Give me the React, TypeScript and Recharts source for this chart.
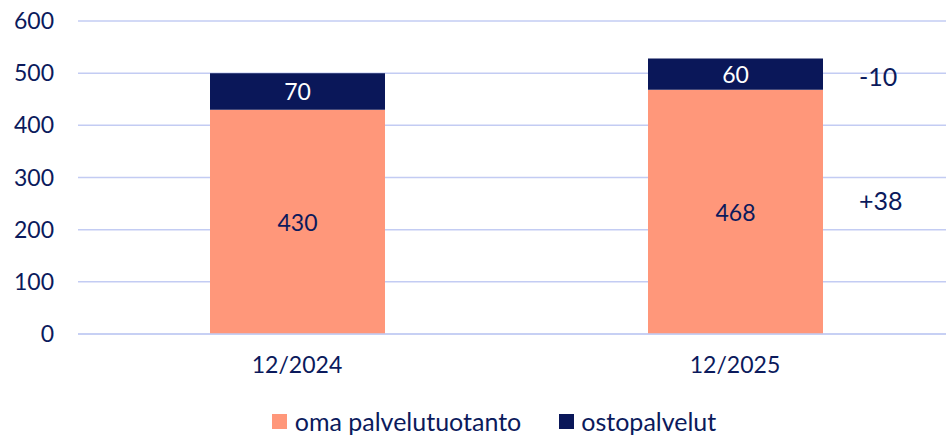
import React from "react";
import { BarChart, Bar, XAxis, YAxis, CartesianGrid, Legend, LabelList } from "recharts";

const categories = ["12/2024", "12/2025"];
const omaValues = [430, 468];
const ostoValues = [70, 60];
const omaChange = ["", "+38"];
const ostoChange = ["", "-10"];
const yTicks = [0, 100, 200, 300, 400, 500, 600];

const NAVY = "#0A1759";
const SALMON = "#FF977A";
const TEXT = "#0B1A5C";
const GRID = "#C3CCF3";
const FONT = "Lato, 'Open Sans', sans-serif";

const data = categories.map((c, i) => ({
  period: c,
  oma: omaValues[i],
  osto: ostoValues[i],
}));

const makeLabel = (color: string, changes: string[], changeDy: number) => (props: any) => {
  const { x, y, width, height, value, index } = props;
  const cx = Number(x) + Number(width) / 2;
  const cy = Number(y) + Number(height) / 2;
  return (
    <g>
      <text x={cx} y={cy} fill={color} fontSize={23} fontFamily={FONT} textAnchor="middle" dominantBaseline="central">
        {value}
      </text>
      {changes[index] ? (
        <text
          x={Number(x) + Number(width) + 36}
          y={cy + changeDy}
          fill={TEXT}
          fontSize={25}
          fontFamily={FONT}
          textAnchor="start"
          dominantBaseline="central"
        >
          {changes[index]}
        </text>
      ) : null}
    </g>
  );
};

const renderLegend = () => (
  <div
    style={{
      display: "flex",
      justifyContent: "center",
      alignItems: "center",
      fontFamily: FONT,
      fontSize: 25,
      lineHeight: "28px",
      color: TEXT,
      height: 40,
      marginTop: 5,
      paddingLeft: 34,
    }}
  >
    <span style={{ width: 15, height: 15, background: SALMON, display: "inline-block", marginRight: 8 }} />
    <span style={{ marginRight: 38 }}>oma palvelutuotanto</span>
    <span style={{ width: 15, height: 15, background: NAVY, display: "inline-block", marginRight: 7 }} />
    <span>ostopalvelut</span>
  </div>
);

export default function App() {
  return (
    <div style={{ position: "absolute", left: 0, top: 0, width: 946, height: 436, overflow: "hidden", background: "#fff" }}>
      <BarChart width={954} height={436} data={data} margin={{ top: 21, right: 0, bottom: 0, left: 0 }}>
        <CartesianGrid vertical={false} stroke={GRID} strokeWidth={1.5} />
        <XAxis
          dataKey="period"
          axisLine={{ stroke: GRID, strokeWidth: 1.5 }}
          tickLine={false}
          tickSize={0}
          tickMargin={23}
          height={62}
          tick={{ fill: TEXT, fontSize: 23, fontFamily: FONT }}
        />
        <YAxis
          width={78}
          domain={[0, 600]}
          ticks={yTicks}
          axisLine={false}
          tickLine={false}
          tickSize={0}
          tickMargin={24}
          tick={{ fill: TEXT, fontSize: 23, fontFamily: FONT }}
        />
        <Legend verticalAlign="bottom" height={40} content={renderLegend} />
        <Bar dataKey="oma" name="oma palvelutuotanto" stackId="a" fill={SALMON} barSize={175} isAnimationActive={false}>
          <LabelList dataKey="oma" content={makeLabel(TEXT, omaChange, -12)} />
        </Bar>
        <Bar dataKey="osto" name="ostopalvelut" stackId="a" fill={NAVY} barSize={175} isAnimationActive={false}>
          <LabelList dataKey="osto" content={makeLabel("#FFFFFF", ostoChange, 2)} />
        </Bar>
      </BarChart>
    </div>
  );
}
